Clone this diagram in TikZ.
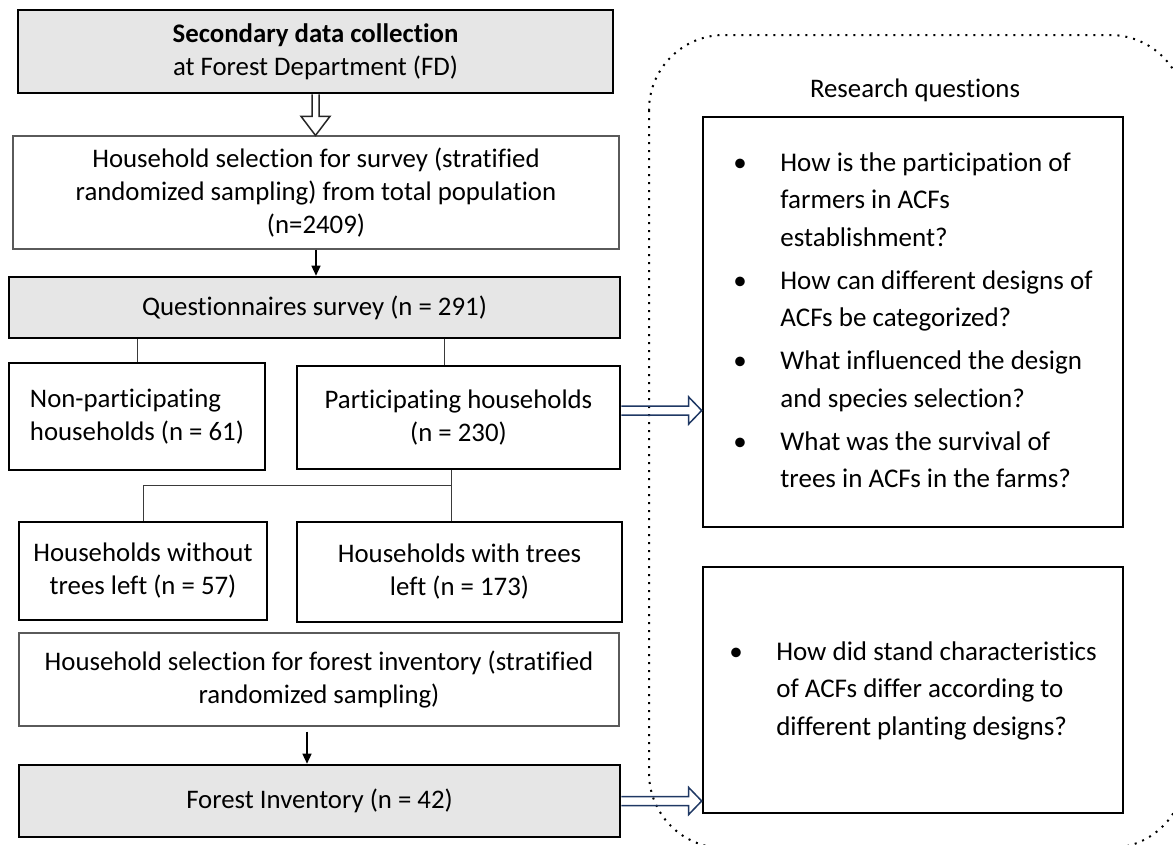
\documentclass[tikz,border=0pt]{standalone}
\usepackage{fontspec}
\setmainfont{Carlito}[Ligatures=NoCommon]
\usepackage{tikz}
\usetikzlibrary{arrows.meta,positioning,calc}
\definecolor{boxgray}{HTML}{E6E6E6}
\definecolor{edgegray}{HTML}{5A5A5A}
\definecolor{ink}{HTML}{000000}
\definecolor{linkgray}{HTML}{3A3A3A}
\definecolor{navy}{HTML}{1F3864}
\tikzset{
  graybox/.style={draw=ink,fill=boxgray,line width=2.6pt,inner sep=0pt,
                  align=center,font=\fontsize{26.8}{33}\selectfont},
  thinbox/.style={draw=edgegray,fill=white,line width=1.1pt,inner sep=0pt,
                  align=center,font=\fontsize{26.8}{33}\selectfont},
  hhbox/.style={draw=ink,fill=white,line width=2.6pt,inner sep=0pt,
                align=center,font=\fontsize{26.8}{33}\selectfont},
  qbox/.style={draw=ink,fill=white,line width=2.6pt,inner sep=0pt,
               font=\fontsize{27}{37.5}\selectfont},
  link/.style={draw=linkgray,line width=1pt},
  flowarr/.style={-{Triangle[length=10pt,width=9pt]},line width=1.4pt,draw=ink},
  openarr/.style={draw=ink!85,fill=white,line width=1.5pt,line join=miter},
  navyarr/.style={draw=navy,line width=1.5pt,line join=miter},
  panel/.style={draw=ink,line width=2pt,dash pattern=on 2pt off 6pt,
                rounded corners=75pt}
}
% hollow double-line arrow: start coordinate, target node
\newcommand{\blockarrow}[2]{%
  \draw[navyarr] ($(#1)+(0,4.5)$) -- ($(#2.west |- #1)+(-13,4.5)$)
    -- ($(#2.west |- #1)+(-13,13.5)$) -- (#2.west |- #1)
    -- ($(#2.west |- #1)+(-13,-13.5)$) -- ($(#2.west |- #1)+(-13,-4.5)$)
    -- ($(#1)+(0,-4.5)$);}

\begin{document}
\begin{tikzpicture}[x=1pt,y=-1pt]
  \useasboundingbox (0,0) rectangle (1173,844);
  % research question panel
  \draw[panel] (649,35) rectangle (1185,848);
  \node (rq) at (915,90) {\fontsize{26.8}{33}\selectfont Research questions};

  % left column
  \node[graybox,minimum width=595,minimum height=83] (sec) at (315.5,51.5)
    {\textbf{Secondary data collection}\\at Forest Department (FD)};
  \node[thinbox,minimum width=606,minimum height=113] (hsel) at (316,192.5)
    {Household selection for survey (stratified\\randomized sampling) from total population\\(n=2409)};
  \node[graybox,minimum width=611,minimum height=61] (qs) at (314.5,307.5)
    {Questionnaires survey (n = 291)};
  \node[hhbox,minimum width=256,minimum height=107,align=left] (np) at (137,416.5)
    {Non-participating\\households (n = 61)};
  \node[hhbox,minimum width=323,minimum height=103] (part) at (458.5,417.5)
    {Participating households\\(n = 230)};
  \node[hhbox,minimum width=248,minimum height=98] (without) at (143,571)
    {Households without\\trees left (n = 57)};
  \node[hhbox,minimum width=325,minimum height=100] (with) at (459.5,572)
    {Households with trees\\left (n = 173)};
  \node[thinbox,minimum width=600,minimum height=93] (fsel) at (319,679.5)
    {Household selection for forest inventory (stratified\\randomized sampling)};
  \node[graybox,minimum width=601,minimum height=72] (finv) at (319.5,801)
    {Forest Inventory (n = 42)};

  % question boxes
  \node[qbox,minimum width=420,minimum height=410] (q1) at (913,322) {%
    \begin{tabular}{@{}p{47pt}@{}l@{}}
    \textbullet & How is the participation of\\
     & farmers in ACFs\\
     & establishment?\\[5.5pt]
    \textbullet & How can different designs of\\
     & ACFs be categorized?\\[5.5pt]
    \textbullet & What influenced the design\\
     & and species selection?\\[5.5pt]
    \textbullet & What was the survival of\\
     & trees in ACFs in the farms?
    \end{tabular}};
  \node[qbox,minimum width=420,minimum height=246] (q2) at (913,690) {%
    \begin{tabular}{@{}p{47pt}@{}l@{}}
    \textbullet & How did stand characteristics\\
     & of ACFs differ according to\\
     & different planting designs?
    \end{tabular}};

  % connectors
  \draw[openarr] ($(sec.south)+(-3.5,0)$) -- ($(sec.south)+(-3.5,22)$)
    -- ($(sec.south)+(-14.5,22)$) -- (sec.south |- hsel.north)
    -- ($(sec.south)+(14.5,22)$) -- ($(sec.south)+(3.5,22)$)
    -- ($(sec.south)+(3.5,0)$);
  \draw[flowarr] (hsel.south) -- (hsel.south |- qs.north);
  \draw[link] (qs.south -| np.north) -- (np.north);
  \coordinate (pt) at ($(part.north)+(-14.5,0)$);
  \draw[link] (pt |- qs.south) -- (pt);
  \coordinate (fork) at ($(part.south)+(-7.5,15)$);
  \draw[link] (fork |- part.south) -- (fork |- with.north);
  \draw[link] (fork) -| (without.north);
  \coordinate (fdrop) at ($(fsel.south)+(-12,5)$);
  \draw[flowarr] (fdrop) -- (fdrop |- finv.north);

  \coordinate (pa) at ($(part.east)+(0,-7)$);
  \blockarrow{pa}{q1}
  \coordinate (fa) at (finv.east);
  \blockarrow{fa}{q2}
\end{tikzpicture}
\end{document}
